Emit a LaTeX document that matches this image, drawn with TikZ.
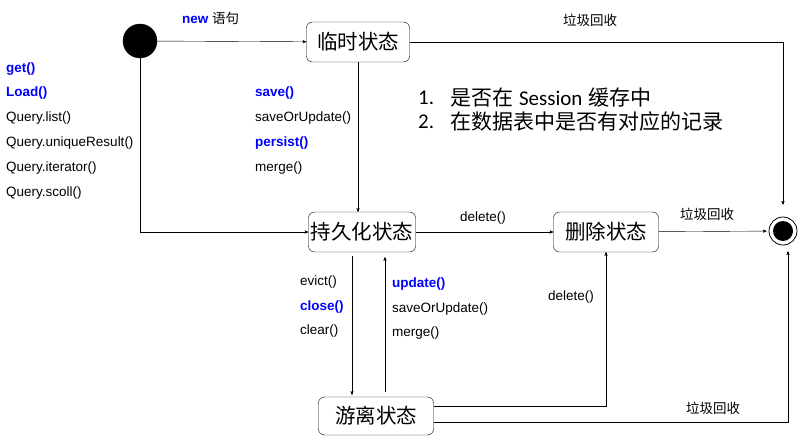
\documentclass[tikz,border=0pt]{standalone}
\usepackage{fontspec}
\setmainfont{Liberation Sans}
\newfontfamily\cjk{Noto Sans CJK SC}
\newfontfamily\listfont{Carlito}
\usetikzlibrary{arrows, positioning, shapes.geometric}
\tikzset{>=stealth', line width=1pt,
    state/.style={draw, rounded corners=6pt, minimum height=40pt, inner sep=0pt,
        font=\cjk\fontsize{20.5}{24}\selectfont},
    initial/.style={circle, draw, fill=black, minimum size=34pt, inner sep=0pt},
    final/.style={circle, draw, line width=0.8pt, minimum size=28pt, inner sep=0pt},
    textnode/.style={font=\fontsize{13.5}{16}\selectfont, inner sep=0pt},
    callnode/.style={textnode, anchor=west, text=blue, font=\fontsize{13.5}{16}\selectfont\bfseries},
    plainnode/.style={textnode, anchor=west},
    gcnode/.style={textnode, font=\cjk\fontsize{13.5}{16}\selectfont},
    listnode/.style={anchor=west, inner sep=0pt, font=\fontsize{21}{24}\selectfont}}

\begin{document}
\begin{tikzpicture}[x=1pt, y=-1pt]
\useasboundingbox (0,0) rectangle (807,441);
\node[initial] (start) at (140,41) {};
\node[state, minimum width=103pt] (tmp)  at (358,42)  {临时状态};
\node[state, minimum width=107pt] (pers) at (362,232) {持久化状态};
\node[state, minimum width=105pt] (del)  at (606,232) {删除状态};
\node[state, minimum width=115pt, minimum height=38pt] (det) at (376,416) {游离状态};
\node[final] (end) at (783,231) {};
\node[circle, fill=black, minimum size=20pt, inner sep=0pt] (endcore) at (end) {};

% labels
\node[textnode, anchor=west] (new) at (182,18) {{\color{blue}\bfseries new} {\cjk 语句}};
\node[gcnode] (gc1) at (590,20) {垃圾回收};
\node[callnode]  (get)    at (6,69)  {get()};
\node[callnode]  (load)   at (6,93)  {Load()};
\node[plainnode] (qlist)  at (6,118) {Query.list()};
\node[plainnode] (quniq)  at (6,143) {Query.uniqueResult()};
\node[plainnode] (qiter)  at (6,168) {Query.iterator()};
\node[plainnode] (qscoll) at (6,193) {Query.scoll()};
\node[callnode]  (save)    at (255,93)  {save()};
\node[plainnode] (saveupd) at (255,118) {saveOrUpdate()};
\node[callnode]  (persist) at (255,143) {persist()};
\node[plainnode] (merge)   at (255,168) {merge()};
\node[listnode] (n1) at (418,98)  {\listfont 1.};
\node[listnode] (l1) at (450,98)  {{\cjk 是否在} {\listfont Session} {\cjk 缓存中}};
\node[listnode] (n2) at (418,122) {\listfont 2.};
\node[listnode] (l2) at (450,122) {\cjk 在数据表中是否有对应的记录};
\node[textnode] (del1) at (483,218) {delete()};
\node[gcnode]   (gc2)  at (707,214) {垃圾回收};
\node[plainnode] (evict) at (300,282) {evict()};
\node[callnode]  (close) at (300,307) {close()};
\node[plainnode] (clear) at (300,331) {clear()};
\node[callnode]  (update)   at (392,284) {update()};
\node[plainnode] (saveupd2) at (392,309) {saveOrUpdate()};
\node[plainnode] (merge2)   at (392,333) {merge()};
\node[textnode] (del2) at (571,297) {delete()};
\node[gcnode]   (gc3)  at (713,408) {垃圾回收};

\draw[->] (start) -- (tmp);
\draw[->, shorten >=12pt] (tmp.east) -| (end.north);
\draw[->] (start.south) |- (pers.west);
\draw[->] (tmp.south) -- (tmp.south |- pers.north);
\draw[->] (pers) -- (del);
\draw[->, shorten >=2pt] (del) -- (end);
\draw[->, shorten <=4pt, shorten >=2pt] ([xshift=-10pt]pers.south) -- ([xshift=-10pt]pers.south |- det.north);
\draw[->, shorten <=5pt, shorten >=5pt] ([xshift=23pt]pers.south |- det.north) -- ([xshift=23pt]pers.south);
\draw[->] ([yshift=10pt]det.east) -| (del.south);
\draw[->, shorten >=6pt] ([yshift=-6pt]det.east) -| ([xshift=5pt]end.south);
\end{tikzpicture}
\end{document}
